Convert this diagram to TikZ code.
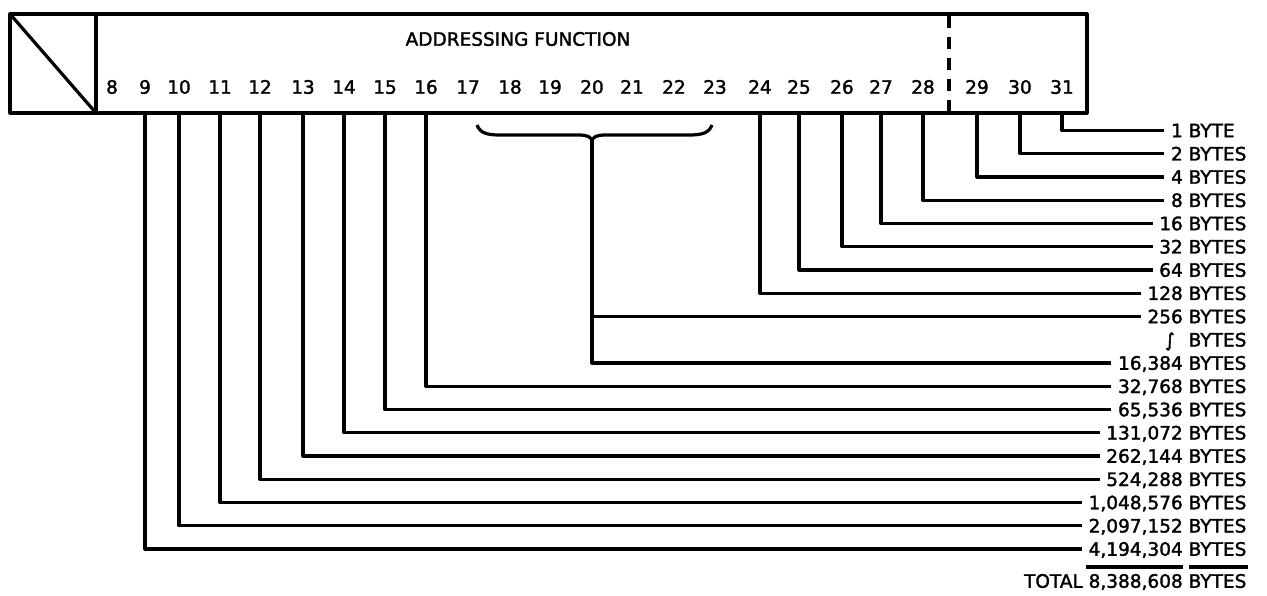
\documentclass[tikz,border=0pt]{standalone}
\usepackage{fontspec}
\setmainfont{DejaVu Sans}
\newfontfamily\diagfont{DejaVu Sans}[FakeBold=1.8]
\begin{document}
\begin{tikzpicture}[x=1pt,y=-1pt,line width=3.2pt,line join=round,
  txt/.style={inner sep=0pt,text height=13.5pt,text depth=0pt,font=\diagfont\fontsize{18.5}{20}\selectfont},
  bit/.style={txt},
  lab/.style={txt,anchor=east,inner xsep=5pt}]
\useasboundingbox (0,0) rectangle (1267,596);
% register box
\draw (10,14) rectangle (1087,113);
\draw (96,14) -- (96,113);
\draw (10,14) -- (96,113);
\draw[dash pattern=on 12pt off 9pt] (949,16) -- (949,113);
\coordinate (boxbot) at (0,113);
\node[txt] (title) at (518,39) {ADDRESSING FUNCTION};
% bit numbers
\foreach \n/\x in {8/112,9/145,10/179,11/220,12/260,13/303,14/344,15/385,16/426,17/468,18/510,19/550,20/592,21/632,22/674,23/715,24/760,25/799,26/842,27/881,28/923,29/977,30/1020,31/1062}
  \node[bit] (b\n) at (\x,87) {\n};
% labels
\node[lab] (r0)  at (1253,130.5) {1 BYTE\phantom{S}};
\node[lab] (r1)  at (1253,153.75) {2 BYTES};
\node[lab] (r2)  at (1253,177) {4 BYTES};
\node[lab] (r3)  at (1253,200.25) {8 BYTES};
\node[lab] (r4)  at (1253,223.5) {16 BYTES};
\node[lab] (r5)  at (1253,246.75) {32 BYTES};
\node[lab] (r6)  at (1253,270) {64 BYTES};
\node[lab] (r7)  at (1253,293.25) {128 BYTES};
\node[lab] (r8)  at (1253,316.5) {256 BYTES};
\node[lab] (r9)  at (1253,339.75) {∫\hspace{14pt}BYTES};
\node[lab] (r10) at (1253,363) {16,384 BYTES};
\node[lab] (r11) at (1253,386.25) {32,768 BYTES};
\node[lab] (r12) at (1253,409.5) {65,536 BYTES};
\node[lab] (r13) at (1253,432.75) {131,072 BYTES};
\node[lab] (r14) at (1253,456) {262,144 BYTES};
\node[lab] (r15) at (1253,479.25) {524,288 BYTES};
\node[lab] (r16) at (1253,502.5) {1,048,576 BYTES};
\node[lab] (r17) at (1253,525.75) {2,097,152 BYTES};
\node[lab] (r18) at (1253,549) {4,194,304 BYTES};
\node[lab] (tot) at (1253,581) {TOTAL 8,388,608 BYTES};
% connectors
\foreach \b/\r in {31/0,30/1,29/2,28/3,27/4,26/5,25/6,24/7,16/11,15/12,14/13,13/14,12/15,11/16,10/17,9/18}
  \draw (b\b |- boxbot) |- (r\r.west);
% brace over bits 18-23
\coordinate (tip) at (592,141);
\draw (477,125) .. controls (480,133) and (487,135) .. (500,135) -- (578,135)
  .. controls (588,135) and (591,137) .. (tip)
  .. controls (593,137) and (596,135) .. (606,135) -- (689,135)
  .. controls (702,135) and (709,133) .. (712,125);
\draw (tip) |- (r10.west);
\draw (tip |- r8) -- (r8.west);
% total rules
\draw (1086,567) -- (1183,567);
\draw (1189,567) -- (1248,567);
\end{tikzpicture}
\end{document}
